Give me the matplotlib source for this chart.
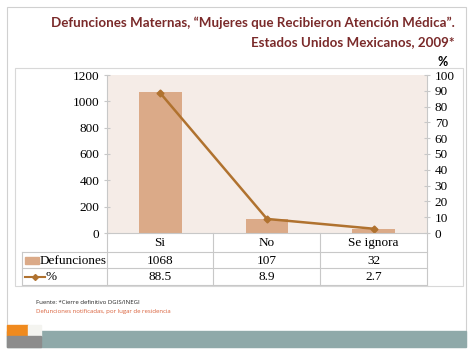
import numpy as np
import matplotlib
matplotlib.use("Agg")
import matplotlib.pyplot as plt
from matplotlib.patches import Rectangle
from matplotlib.lines import Line2D

# datos
categorias = ["Si", "No", "Se ignora"]
defunciones = [1068, 107, 32]
porcentaje = [88.5, 8.9, 2.7]
etiquetas_def = ["1068", "107", "32"]
etiquetas_pct = ["88.5", "8.9", "2.7"]

W, H = 474, 355
color_barra = "#DBAA88"
color_linea = "#B0722F"
color_titulo = "#7A2A2A"
color_rejilla = "#C8C8C8"
serif = "Liberation Serif"

fig = plt.figure(figsize=(W / 100, H / 100), dpi=100)


def fx(x):
    return x / W


def fy(y):
    return 1 - y / H


# marcos de la diapositiva y del grafico
fig.add_artist(Rectangle((fx(7), fy(347)), fx(459), (340) / H, fill=False,
                         edgecolor="#D0D0D0", lw=0.8, transform=fig.transFigure))
fig.add_artist(Rectangle((fx(15), fy(286)), fx(448), (218) / H, fill=False,
                         edgecolor="#D8D8D8", lw=0.8, transform=fig.transFigure))
# banda inferior
fig.add_artist(Rectangle((fx(7), fy(347)), fx(459), 16 / H, color="#8FA9A9",
                         transform=fig.transFigure, zorder=2))
fig.add_artist(Rectangle((fx(7), fy(336)), fx(21), 11 / H, color="#F08A1E",
                         transform=fig.transFigure, zorder=3))
fig.add_artist(Rectangle((fx(28), fy(336)), fx(13), 11 / H, color="#F4F4F0",
                         transform=fig.transFigure, zorder=3))
fig.add_artist(Rectangle((fx(7), fy(347)), fx(34), 11 / H, color="#8C8C8C",
                         transform=fig.transFigure, zorder=3))

# titulo
fig.text(fx(455), fy(23), "Defunciones Maternas, \u201cMujeres que Recibieron Atención Médica\u201d.",
         ha="right", va="center", fontsize=9.6, fontweight="bold", color=color_titulo,
         family="Lato")
fig.text(fx(455), fy(42), "Estados Unidos Mexicanos, 2009*",
         ha="right", va="center", fontsize=9.6, fontweight="bold", color=color_titulo,
         family="Lato")

# ejes
x0, x1, y0, y1 = 107, 427, 75, 233
ax = fig.add_axes([fx(x0), fy(y1), fx(x1 - x0), (y1 - y0) / H])
ax.set_facecolor("#F5ECE7")
x = np.arange(len(categorias))
ax.bar(x, defunciones, width=0.4, color=color_barra, zorder=2)
ax.set_xlim(-0.5, len(categorias) - 0.5)
ax.set_ylim(0, 1200)
ax.set_yticks(np.arange(0, 1201, 200))
ax.set_xticks([])
for s in ["top", "bottom"]:
    ax.spines[s].set_visible(False)
ax.spines["left"].set_color(color_rejilla)
ax.spines["right"].set_visible(False)
ax.tick_params(axis="y", colors=color_rejilla, labelcolor="black", length=4,
               direction="inout", labelsize=9.5)
for t in ax.get_yticklabels():
    t.set_family(serif)

ax2 = ax.twinx()
ax2.plot(x, porcentaje, color=color_linea, lw=1.8, marker="D", markersize=3.5, zorder=3)
ax2.set_ylim(0, 100)
ax2.set_yticks(np.arange(0, 101, 10))
for s in ["top", "bottom", "left"]:
    ax2.spines[s].set_visible(False)
ax2.spines["right"].set_color(color_rejilla)
ax2.tick_params(axis="y", colors=color_rejilla, labelcolor="black", length=4,
                direction="inout", labelsize=9.5)
for t in ax2.get_yticklabels():
    t.set_family(serif)
fig.text(fx(443), fy(62), "%", ha="center", va="center", fontsize=9,
         fontweight="bold", family="Lato")

# tabla de datos
filas = [233, 252, 268, 285]
cols = [107, 213, 320, 427]


def linea(xa, ya, xb, yb):
    fig.add_artist(Line2D([fx(xa), fx(xb)], [fy(ya), fy(yb)], color=color_rejilla,
                          lw=0.8, transform=fig.transFigure))


linea(107, 233, 427, 233)
for yy in filas[1:]:
    linea(22, yy, 427, yy)
linea(22, 252, 22, 285)
for xx in cols:
    linea(xx, 233, xx, 285)

for i in range(len(categorias)):
    cx = fx((cols[i] + cols[i + 1]) / 2)
    fig.text(cx, fy(243), categorias[i], ha="center", va="center", fontsize=9.5, family=serif)
    fig.text(cx, fy(260.5), etiquetas_def[i], ha="center", va="center", fontsize=9.5, family=serif)
    fig.text(cx, fy(276.5), etiquetas_pct[i], ha="center", va="center", fontsize=9.5, family=serif)

fig.add_artist(Rectangle((fx(25), fy(264)), fx(14), 7 / H, color=color_barra,
                         transform=fig.transFigure))
fig.text(fx(40), fy(260.5), "Defunciones", ha="left", va="center", fontsize=9.5, family=serif)
fig.add_artist(Line2D([fx(25), fx(45)], [fy(276.5), fy(276.5)], color=color_linea, lw=1.5,
                      transform=fig.transFigure))
fig.add_artist(Line2D([fx(35)], [fy(276.5)], color=color_linea, marker="D", markersize=3,
                      transform=fig.transFigure))
fig.text(fx(46), fy(276.5), "%", ha="left", va="center", fontsize=9.5, family=serif)

# notas
fig.text(fx(36), fy(302), "Fuente: *Cierre definitivo DGIS/INEGI", ha="left", va="center",
         fontsize=4.3, family="Open Sans", color="#222222")
fig.text(fx(36), fy(311), "Defunciones notificadas, por lugar de residencia", ha="left",
         va="center", fontsize=4.3, family="Open Sans", color="#D9603A")

fig.savefig("out.png", dpi=100)
